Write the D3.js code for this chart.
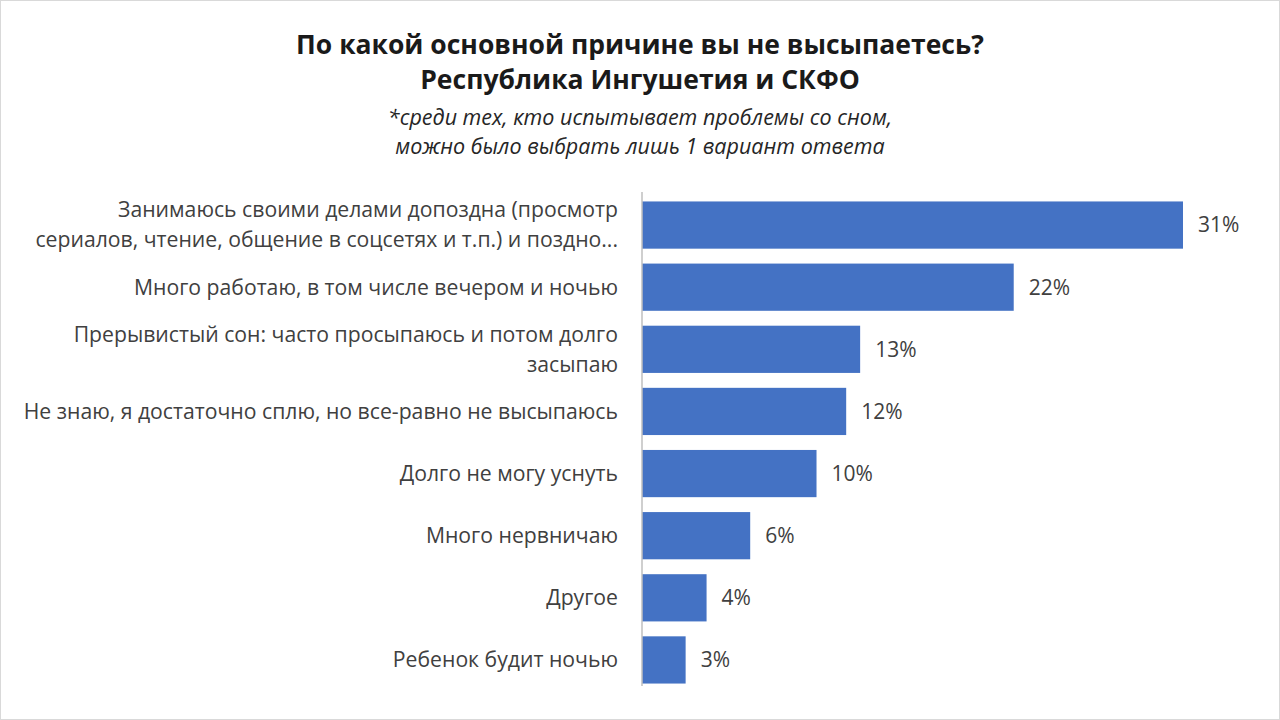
<!DOCTYPE html>
<html><head><meta charset="utf-8">
<script src="https://cdn.jsdelivr.net/npm/d3@7/dist/d3.min.js"></script>
<style>body{margin:0;background:#fff}svg{display:block}text{font-family:"Open Sans","Noto Sans",sans-serif}</style>
</head><body><svg id="c" width="1280" height="720"></svg>
<script>
const categories = [
  ["Занимаюсь своими делами допоздна (просмотр","сериалов, чтение, общение в соцсетях и т.п.) и поздно..."],
  ["Много работаю, в том числе вечером и ночью"],
  ["Прерывистый сон: часто просыпаюсь и потом долго","засыпаю"],
  ["Не знаю, я достаточно сплю, но все-равно не высыпаюсь"],
  ["Долго не могу уснуть"],
  ["Много нервничаю"],
  ["Другое"],
  ["Ребенок будит ночью"]
];
const values = [31, 21.3, 12.5, 11.7, 10, 6.2, 3.7, 2.5];
const valueLabels = ["31%","22%","13%","12%","10%","6%","4%","3%"];
const titleLines = ["По какой основной причине вы не высыпаетесь?","Республика Ингушетия и СКФО"];
const subtitleLines = ["*среди тех, кто испытывает проблемы со сном,","можно было выбрать лишь 1 вариант ответа"];

const svg = d3.select("#c");
svg.append("rect").attr("x",0.5).attr("y",0.5).attr("width",1279).attr("height",719).attr("fill","#fff").attr("stroke","#d9d9d9");
const x0 = 642;
const x = d3.scaleLinear().domain([0,31]).range([x0,1183]);
const y = d3.scaleBand().domain(d3.range(categories.length)).range([194,691]).paddingInner(0.24).paddingOuter(0.12);

titleLines.forEach((t,i)=>svg.append("text").attr("x",640).attr("y",45+i*35).attr("dy","0.35em").attr("text-anchor","middle")
  .attr("font-size",26.5).attr("font-weight","bold").attr("fill","#1a1a1a").text(t));
subtitleLines.forEach((t,i)=>svg.append("text").attr("x",640).attr("y",117+i*29).attr("dy","0.35em").attr("text-anchor","middle")
  .attr("font-size",21.5).attr("font-style","italic").attr("fill","#262626").text(t));

svg.selectAll("rect.bar").data(values).join("rect").attr("class","bar")
  .attr("x",x0).attr("y",(d,i)=>y(i)).attr("width",d=>x(d)-x0).attr("height",y.bandwidth()).attr("fill","#4472c4");

svg.selectAll("text.val").data(values).join("text").attr("class","val")
  .attr("x",d=>x(d)+15).attr("y",(d,i)=>y(i)+y.bandwidth()/2).attr("dy","0.35em")
  .attr("font-size",21).attr("fill","#404040").text((d,i)=>valueLabels[i]);

categories.forEach((lines,i)=>{
  const cy = y(i)+y.bandwidth()/2;
  const t = svg.append("text").attr("x",618).attr("text-anchor","end").attr("font-size",21.2).attr("fill","#404040");
  lines.forEach((l,j)=>t.append("tspan").attr("x",618).attr("y",cy+(j-(lines.length-1)/2)*30).attr("dy","0.35em").text(l));
});

svg.append("line").attr("x1",x0).attr("x2",x0).attr("y1",192).attr("y2",686).attr("stroke","#bfbfbf").attr("stroke-width",1.5);
</script></body></html>
